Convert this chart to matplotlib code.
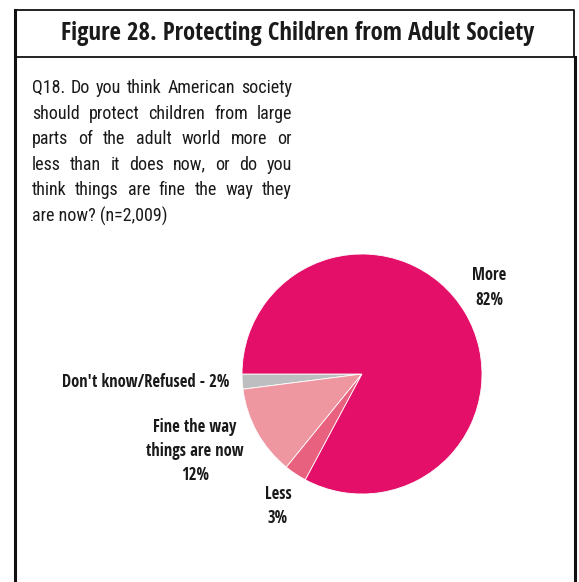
import matplotlib
matplotlib.use("Agg")
import matplotlib.pyplot as plt
from matplotlib.lines import Line2D
from matplotlib import font_manager as fm

# ---- data ----
categories = ["Don't know/Refused", "Fine the way things are now", "Less", "More"]
values = [2, 12, 3, 82]
colors = ["#BDBEC0", "#EF97A1", "#E8617E", "#E30F68"]
title = "Figure 28. Protecting Children from Adult Society"
question_lines = [
    "Q18. Do you think American society",
    "should protect children from large",
    "parts of the adult world more or",
    "less than it does now, or do you",
    "think things are fine the way they",
    "are now? (n=2,009)",
]

W, H = 579, 582
fig = plt.figure(figsize=(W / 100, H / 100), dpi=100)
ov = fig.add_axes([0, 0, 1, 1])
ov.set_xlim(0, W)
ov.set_ylim(H, 0)
ov.axis("off")
fig.canvas.draw()
r = fig.canvas.get_renderer()

def text_w(s, prop):
    w, h, d = r.get_text_width_height_descent(s, prop, ismath=False)
    return w

def weight_of(f):
    if isinstance(f.weight, int):
        return f.weight
    return fm.weight_dict.get(str(f.weight), 400)

OK_FAM = ("roboto", "open sans", "noto sans", "liberation sans", "dejavu sans", "lato", "inter")
BAD = ("italic", "oblique", "mono", "light", "thin", "black", "medium", "heavy", "cjk",
       "semibold", "extrabold", "display", "slab", "serif", "symbols", "math")

def pick_font(bold, sample, size, target_w):
    best = None
    seen = set()
    for f in fm.fontManager.ttflist:
        fam = f.name.lower()
        if not fam.startswith(OK_FAM):
            continue
        nm = (f.name + " " + f.fname.split("/")[-1]).lower()
        if f.style != "normal" or any(b in nm for b in BAD):
            continue
        w = weight_of(f)
        if bold and not (650 <= w <= 750):
            continue
        if not bold and not (380 <= w <= 420):
            continue
        if f.fname in seen:
            continue
        seen.add(f.fname)
        try:
            p = fm.FontProperties(fname=f.fname, size=size)
            tw = text_w(sample, p)
        except Exception:
            continue
        d = abs(tw - target_w)
        if best is None or d < best[0]:
            best = (d, f.fname)
    if best is None:
        return fm.FontProperties(family="DejaVu Sans", weight="bold" if bold else "normal")
    return fm.FontProperties(fname=best[1])

def fp(base, size):
    p = base.copy()
    p.set_size(size)
    return p

FP_R = pick_font(False, question_lines[0], 13.2, 250)
FP_B = pick_font(True, title, 20.5, 473)

# frame
k = "#111111"
ov.add_line(Line2D([15, 574, 574, 15, 15], [10, 10, 57, 57, 10], color=k, lw=1.3))
ov.add_line(Line2D([15, 15], [10, 582], color=k, lw=2.2))
ov.add_line(Line2D([575, 575], [57, 582], color=k, lw=2.2))

# title, scaled to target width
ts = 20.5
tw = text_w(title, fp(FP_B, ts))
ts = ts * min(1.3, 472 / tw)
ov.text(298, 33, title, ha="center", va="center", fontproperties=fp(FP_B, ts), color="#1a1a1a")

# justified question text
x0, x1 = 32, 292
y0, dy = 88, 25.6
qs = 13.2
qp = fp(FP_R, qs)
maxw = max(text_w(l, qp) for l in question_lines[:-1])
if maxw > (x1 - x0) * 0.97:
    qs *= (x1 - x0) * 0.97 / maxw
    qp = fp(FP_R, qs)
for i, line in enumerate(question_lines):
    y = y0 + i * dy
    words = line.split(" ")
    if i == len(question_lines) - 1:
        ov.text(x0, y, line, ha="left", va="center", fontproperties=qp, color="#1a1a1a")
        continue
    widths = [text_w(w_, qp) for w_ in words]
    gap = (x1 - x0 - sum(widths)) / (len(words) - 1)
    x = x0
    for w_, wdt in zip(words, widths):
        ov.text(x, y, w_, ha="left", va="center", fontproperties=qp, color="#1a1a1a")
        x += wdt + gap

# pie
cx, cy, R = 362, 374, 120
half = 1.25 * R
pa = fig.add_axes([(cx - half) / W, (H - (cy + half)) / H, 2 * half / W, 2 * half / H])
pa.pie(values, colors=colors, startangle=180, counterclock=True,
       wedgeprops=dict(edgecolor="white", linewidth=0.6))
pa.set_aspect("equal")

ls = 12.5
lp = fp(FP_B, ls)
dk = f"Don't know/Refused - {values[0]}%"
dw = text_w(dk, lp)
ls *= 168 / dw
lp = fp(FP_B, ls)
lab = dict(fontproperties=lp, color="#1a1a1a", ha="center", va="center")
ov.text(489, 275, "More", **lab)
ov.text(489, 300, f"{values[3]}%", **lab)
ov.text(229, 382, dk, fontproperties=lp, color="#1a1a1a", ha="right", va="center")
ov.text(195, 427, "Fine the way", **lab)
ov.text(195, 451, "things are now", **lab)
ov.text(195, 475, f"{values[1]}%", **lab)
ov.text(278, 494, "Less", **lab)
ov.text(278, 518, f"{values[2]}%", **lab)

fig.savefig("out.png", dpi=100)
